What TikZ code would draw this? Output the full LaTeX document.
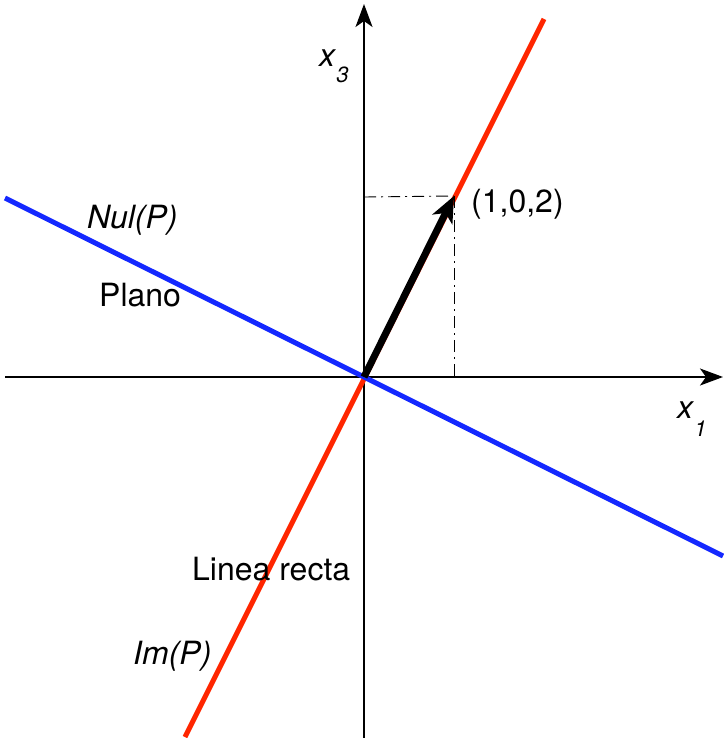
\documentclass[tikz,border=0pt]{standalone}
\usepackage{fontspec}
\setmainfont{TeX Gyre Heros}
\usetikzlibrary{arrows.meta}
\definecolor{redline}{RGB}{255,38,0}
\definecolor{blueline}{RGB}{20,40,255}
\begin{document}
\begin{tikzpicture}[x=1pt,y=-1pt,
  axis/.style={line width=1.8pt,-{Stealth[length=23pt,width=17pt,inset=6pt]}},
  lbl/.style={inner sep=0pt,anchor=base west,font=\fontsize{32}{37}\selectfont},
  thin guide/.style={line width=0.9pt,dash pattern=on 12pt off 5pt on 2pt off 5pt}]
\useasboundingbox (0,0) rectangle (723,738);
\coordinate (O) at (364,377);
\coordinate (xL) at (5,377);
\coordinate (xR) at (723,377);
\coordinate (yB) at (364,738);
\coordinate (yT) at (364,4);
\coordinate (rB) at (185,737);
\coordinate (rT) at (544,19);
\coordinate (bL) at (5,198);
\coordinate (bR) at (723,556);
\coordinate (P) at (454,196);
\coordinate (Py) at (364,197);
\coordinate (Px) at (454,377);
% axes
\draw[axis] (xL) -- (xR);
\draw[axis] (yB) -- (yT);
% lines
\draw[redline,line width=5pt] (rB) -- (rT);
\draw[blueline,line width=5pt] (bL) -- (bR);
% guides
\draw[thin guide] (Py) -- (P);
\draw[thin guide] (P) -- (Px);
% vector
\draw[line width=7pt,-{Stealth[length=26pt,width=22pt,inset=7pt]}] (O) -- (P);
% labels
\node[lbl] (lx3) at (319,67) {\textit{x}\raisebox{-16pt}{\fontsize{22}{22}\selectfont\textit{3}}};
\node[lbl] (lx1) at (677,418) {\textit{x}\raisebox{-18pt}{\fontsize{22}{22}\selectfont\textit{1}}};
\node[lbl] (lp) at (471,212) {(1,0,2)};
\node[lbl] (lnul) at (87,228) {\textit{Nul(P)}};
\node[lbl] (lplano) at (99,306) {Plano};
\node[lbl] (llin) at (192,580) {Linea recta};
\node[lbl] (lim) at (133,664) {\textit{Im(P)}};
\end{tikzpicture}
\end{document}
